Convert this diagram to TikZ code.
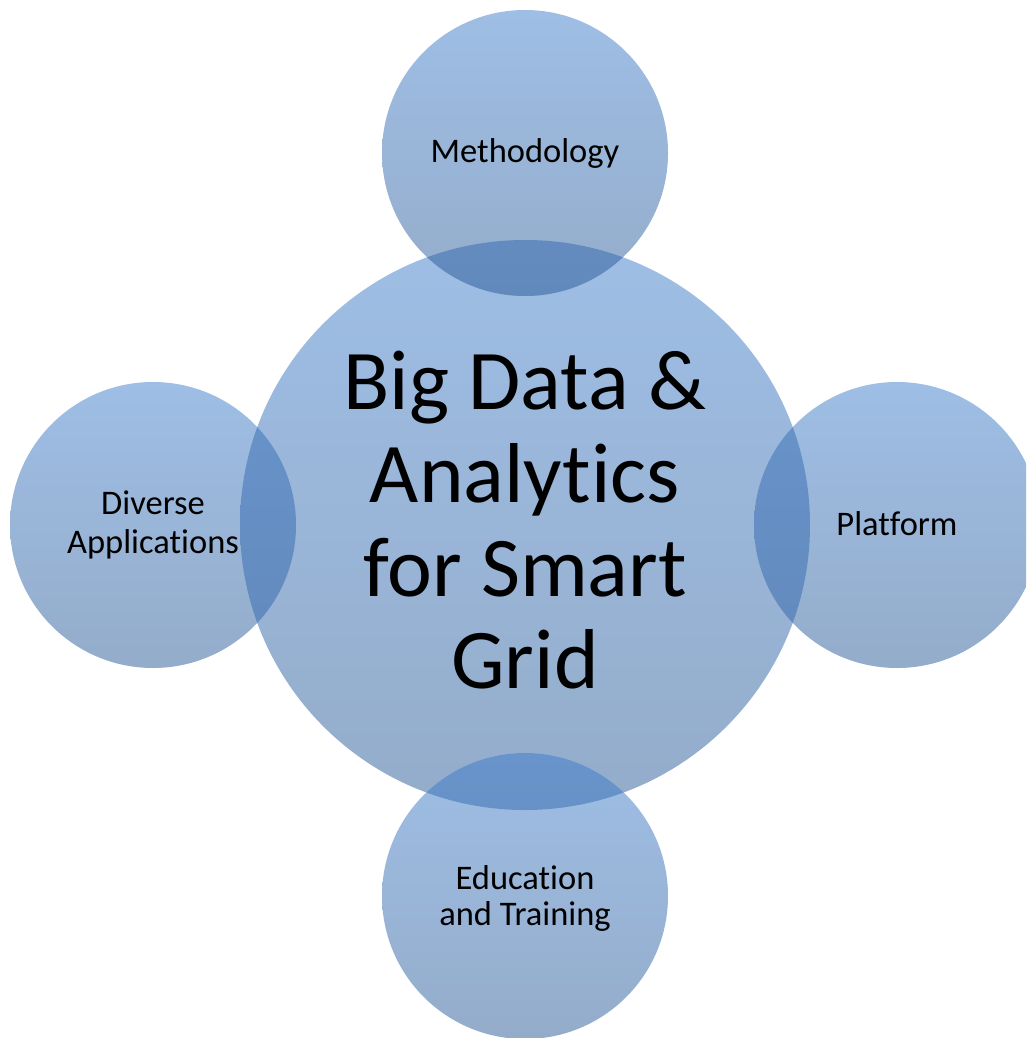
\documentclass[tikz,border=0pt]{standalone}
\usepackage{fontspec}
\setmainfont{Carlito}[Ligatures={NoCommon,NoRare,NoContextual}]
\definecolor{ctop}{RGB}{158,190,229}
\definecolor{cbot}{RGB}{148,172,202}
\definecolor{otop}{RGB}{104,148,203}
\definecolor{obot}{RGB}{98,137,188}
\tikzset{
  bubble/.style={circle, inner sep=0pt, top color=ctop, bottom color=cbot, draw=none},
  bigtxt/.style={font=\fontsize{85}{93}\selectfont, inner sep=0pt, anchor=base},
  smtxt/.style={font=\fontsize{34.5}{38}\selectfont, inner sep=0pt, anchor=base},
  lens/.style={top color=otop, bottom color=obot, draw=none}
}
\begin{document}
\begin{tikzpicture}[x=1pt,y=-1pt]
\useasboundingbox (0,0) rectangle (1026,1038);
\begin{scope}
\clip (0,0) rectangle (1026,1038);
% circles
\node[bubble, minimum size=570pt] (hub) at (525,525) {};
\node[bubble, minimum size=286pt] (top) at (525,153) {};
\node[bubble, minimum size=286pt] (bot) at (525,896) {};
\node[bubble, minimum size=286pt] (lft) at (153,525) {};
\node[bubble, minimum size=286pt] (rgt) at (897,525) {};
% overlaps
\begin{scope}
\clip (525,525) circle (285);
\shade[lens] (525,153) circle (143);
\shade[lens] (525,896) circle (143);
\shade[lens] (153,525) circle (143);
\shade[lens] (897,525) circle (143);
\end{scope}
\end{scope}
% texts
\node[bigtxt] (l1) at (525,409) {Big Data \&};
\node[bigtxt] (l2) at (525,502) {Analytics};
\node[bigtxt] (l3) at (525,596) {for Smart};
\node[bigtxt] (l4) at (525,688) {Grid};
\node[smtxt] (tm) at (525,162) {Methodology};
\node[smtxt] (tr) at (897,535) {Platform};
\node[smtxt] (tl1) at (153,514) {Diverse};
\node[smtxt] (tl2) at (153,553) {Applications};
\node[smtxt] (tb1) at (525,889) {Education};
\node[smtxt] (tb2) at (525,925) {and Training};
\end{tikzpicture}
\end{document}
